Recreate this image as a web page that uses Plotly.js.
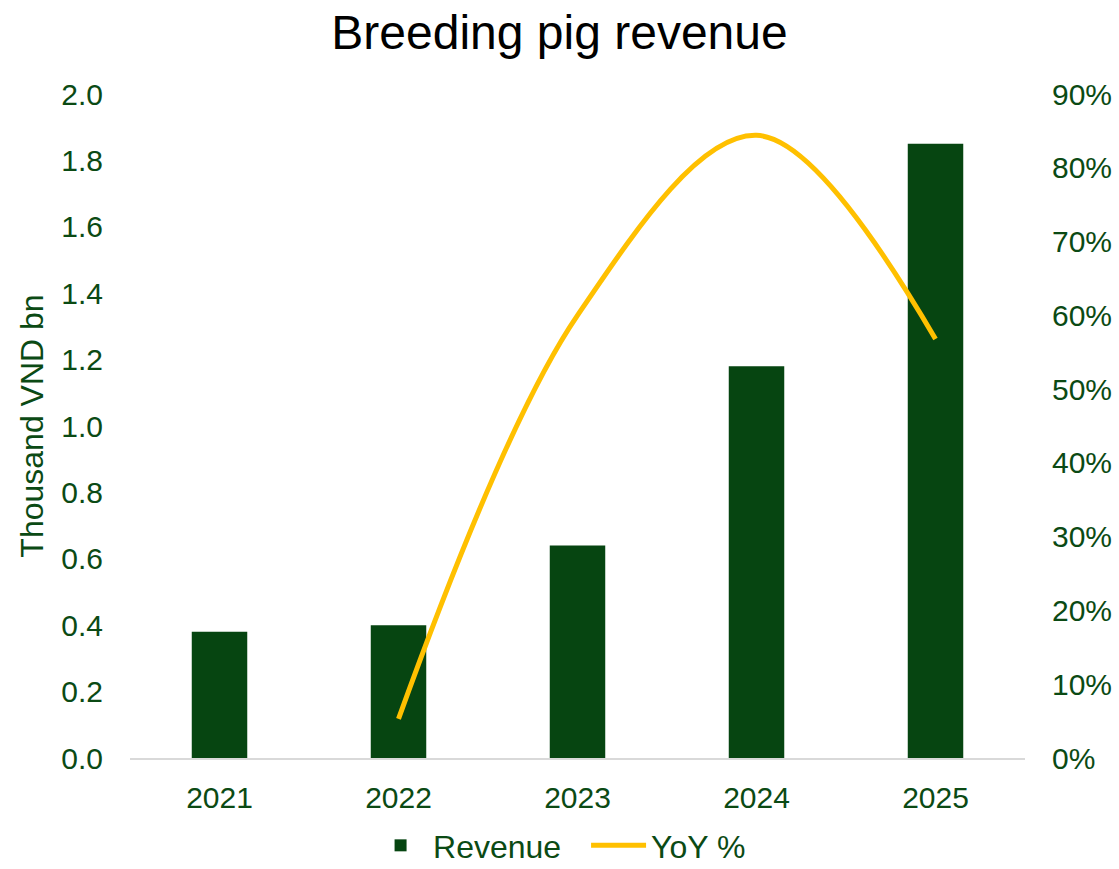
<!DOCTYPE html>
<html>
<head>
<meta charset="utf-8">
<script src="https://cdn.plot.ly/plotly-3.0.1.min.js"></script>
<style>html,body{margin:0;padding:0;background:#fff;}#chart{width:1119px;height:869px;}</style>
</head>
<body>
<div id="chart"></div>
<script>
const years = ["2021", "2022", "2023", "2024", "2025"];
const revenue = [0.38, 0.40, 0.64, 1.18, 1.85];
const yoy = [null, 5.3, 60.0, 84.4, 56.8];
const leftTicks = [0, 0.2, 0.4, 0.6, 0.8, 1.0, 1.2, 1.4, 1.6, 1.8, 2.0];
const rightTicks = [0, 10, 20, 30, 40, 50, 60, 70, 80, 90];

const green = "#064511";
const textGreen = "#0B4A14";
const font = "Liberation Sans, Arial, sans-serif";

const traces = [
  {
    type: "bar", x: years, y: revenue, name: "Revenue",
    marker: {color: green}, width: 0.31, yaxis: "y"
  },
  {
    type: "scatter", mode: "lines", x: years, y: yoy, name: "YoY %",
    line: {color: "#FFC000", width: 5, shape: "spline", smoothing: 1},
    yaxis: "y2", connectgaps: false
  }
];

const layout = {
  width: 1119, height: 869,
  margin: {l: 130, r: 94, t: 94, b: 111, autoexpand: false},
  paper_bgcolor: "#fff", plot_bgcolor: "#fff",
  font: {family: font, color: textGreen, size: 30},
  title: {text: "Breeding pig revenue", font: {family: font, size: 48, color: "#000"}, x: 0.5, xanchor: "center", y: 0.963, yanchor: "middle"},
  showlegend: true,
  legend: {orientation: "h", x: 0.266, xanchor: "left", yref: "container", y: 0.027, yanchor: "middle",
           font: {size: 32, color: textGreen}, itemwidth: 55, entrywidth: 148, entrywidthmode: "pixels",
           traceorder: "normal"},
  bargap: 0.69,
  xaxis: {
    type: "category", tickvals: years, ticktext: years,
    showgrid: false, zeroline: false, showline: true, linecolor: "#D9D9D9", linewidth: 1.5,
    ticks: "", ticklabelstandoff: 12, tickfont: {size: 30, color: textGreen}
  },
  yaxis: {
    range: [0, 2.0], tickvals: leftTicks, ticktext: leftTicks.map(v => v.toFixed(1)),
    showgrid: false, zeroline: false, showline: false, ticks: "",
    ticklabelstandoff: 26, tickfont: {size: 30, color: textGreen},
    title: {text: "Thousand VND bn", font: {size: 32, color: textGreen}, standoff: 8}
  },
  yaxis2: {
    overlaying: "y", side: "right",
    range: [0, 90], tickvals: rightTicks, ticktext: rightTicks.map(v => v + "%"),
    showgrid: false, zeroline: false, showline: false, ticks: "",
    ticklabelstandoff: 26, tickfont: {size: 30, color: textGreen}
  }
};

Plotly.newPlot("chart", traces, layout, {displayModeBar: false, staticPlot: true});
</script>
</body>
</html>
